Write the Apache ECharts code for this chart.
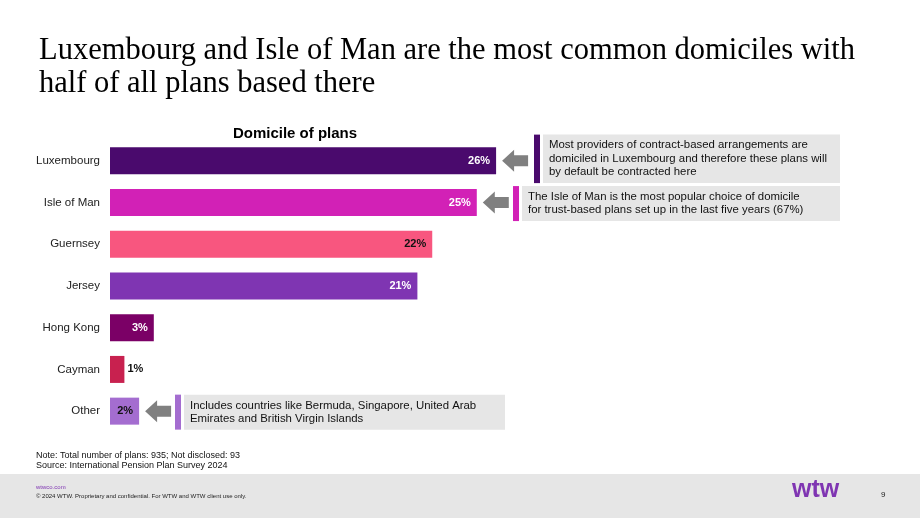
<!DOCTYPE html>
<html lang="en">
<head>
  <meta charset="UTF-8" />
  <title>Domicile of plans</title>
  <script src="https://cdn.jsdelivr.net/npm/echarts@6/dist/echarts.min.js"></script>
  <style>
    html, body { margin: 0; padding: 0; background: #fff; }
    #chart { width: 920px; height: 518px; }
  </style>
</head>
<body>
  <div id="chart"></div>
  <script>
    // domiciles, top to bottom
    const categories = ['Luxembourg', 'Isle of Man', 'Guernsey', 'Jersey', 'Hong Kong', 'Cayman', 'Other'];
    const shares = [26, 24.7, 21.7, 20.7, 2.95, 0.97, 1.96];
    const barColors = ['#4a0a6d', '#d221b6', '#f8567f', '#7f35b2', '#7b0066', '#c8214f', '#a46dd0'];
    const labelColors = ['#fff', '#fff', '#111', '#fff', '#fff', '#111', '#111'];

    // call-out boxes: which bar, text lines, accent colour
    const notes = [
      { cat: 'Luxembourg', lines: ['Most providers of contract-based arrangements are', 'domiciled in Luxembourg and therefore these plans will', 'by default be contracted here'], accent: '#4a0a6d', x: 534, w: 306 },
      { cat: 'Isle of Man', lines: ['The Isle of Man is the most popular choice of domicile', 'for trust-based plans set up in the last five years (67%)'], accent: '#d221b6', x: 513, w: 327 },
      { cat: 'Other', lines: ['Includes countries like Bermuda, Singapore, United Arab', 'Emirates and British Virgin Islands'], accent: '#a46dd0', x: 175, w: 330 }
    ];

    const chart = echarts.init(document.getElementById('chart'));

    const seriesData = shares.map((v, i) => ({
      value: v,
      itemStyle: { color: barColors[i] },
      label: {
        color: labelColors[i],
        position: categories[i] === 'Cayman' ? 'right' : 'insideRight',
        distance: categories[i] === 'Cayman' ? 3 : 6
      }
    }));

    chart.setOption({
      animation: false,
      textStyle: { fontFamily: 'Liberation Sans, Arial, sans-serif' },
      title: [
        {
          text: 'Luxembourg and Isle of Man are the most common domiciles with\nhalf of all plans based there',
          left: 34, top: 30,
          textStyle: { fontFamily: 'Liberation Serif, Times New Roman, serif', fontWeight: 'normal', fontSize: 30.5, lineHeight: 32.5, color: '#000' }
        },
        {
          text: 'Domicile of plans',
          left: 290, top: 121, textAlign: 'center',
          textStyle: { fontSize: 15, fontWeight: 'bold', color: '#000' }
        }
      ],
      grid: { left: 110, top: 140, height: 292, width: 445.5 },
      xAxis: { type: 'value', min: 0, max: 30, show: false },
      yAxis: {
        type: 'category', data: categories, inverse: true,
        axisLine: { show: false }, axisTick: { show: false },
        axisLabel: { margin: 10, fontSize: 11.5, color: '#222' }
      },
      series: [{
        type: 'bar', data: seriesData, barWidth: 27,
        label: {
          show: true, fontSize: 11, fontWeight: 'bold',
          formatter: p => Math.round(p.value) + '%'
        }
      }]
    });

    // annotations placed from the axis scales
    const graphics = [];
    notes.forEach(n => {
      const yc = chart.convertToPixel({ yAxisIndex: 0 }, n.cat);
      const idx = categories.indexOf(n.cat);
      const x0 = chart.convertToPixel({ xAxisIndex: 0 }, shares[idx]) + 6;
      graphics.push({
        type: 'polygon',
        shape: { points: [[x0, yc], [x0 + 12, yc - 11], [x0 + 12, yc - 5.5], [x0 + 26, yc - 5.5], [x0 + 26, yc + 5.5], [x0 + 12, yc + 5.5], [x0 + 12, yc + 11]] },
        style: { fill: '#808080' }
      });
      const h = n.lines.length * 13.5 + 8;
      const top = yc - h / 2 + (n.lines.length === 3 ? -2 : 1);
      graphics.push({ type: 'rect', shape: { x: n.x, y: top, width: 6, height: h }, style: { fill: n.accent } });
      graphics.push({ type: 'rect', shape: { x: n.x + 9, y: top, width: n.w - 9, height: h }, style: { fill: '#e6e6e6' } });
      graphics.push({
        type: 'text', x: n.x + 15, y: top + 4,
        style: { text: n.lines.join('\n'), fontSize: 11.4, lineHeight: 13.5, fill: '#111', fontFamily: 'Liberation Sans, Arial, sans-serif' }
      });
    });

    // footnotes and footer band
    graphics.push(
      { type: 'text', x: 36, y: 451, style: { text: 'Note: Total number of plans: 935; Not disclosed: 93\nSource: International Pension Plan Survey 2024', fontSize: 9, lineHeight: 10, fill: '#111', fontFamily: 'Liberation Sans, sans-serif' } },
      { type: 'rect', shape: { x: 0, y: 474, width: 920, height: 44 }, style: { fill: '#e6e6e6' } },
      { type: 'text', x: 36, y: 484, style: { text: 'wtwco.com', fontSize: 6, fill: '#7f35b2', fontFamily: 'Liberation Sans, sans-serif' } },
      { type: 'text', x: 36, y: 493, style: { text: '© 2024 WTW. Proprietary and confidential. For WTW and WTW client use only.', fontSize: 6, fill: '#222', fontFamily: 'Liberation Sans, sans-serif' } },
      { type: 'text', x: 792, y: 478, style: { text: 'wtw', fontSize: 25, fontWeight: 'bold', fill: '#7f35b2', fontFamily: 'Liberation Sans, sans-serif' } },
      { type: 'text', x: 881, y: 491, style: { text: '9', fontSize: 8, fill: '#222', fontFamily: 'Liberation Sans, sans-serif' } }
    );

    chart.setOption({ graphic: graphics });
  </script>
</body>
</html>
